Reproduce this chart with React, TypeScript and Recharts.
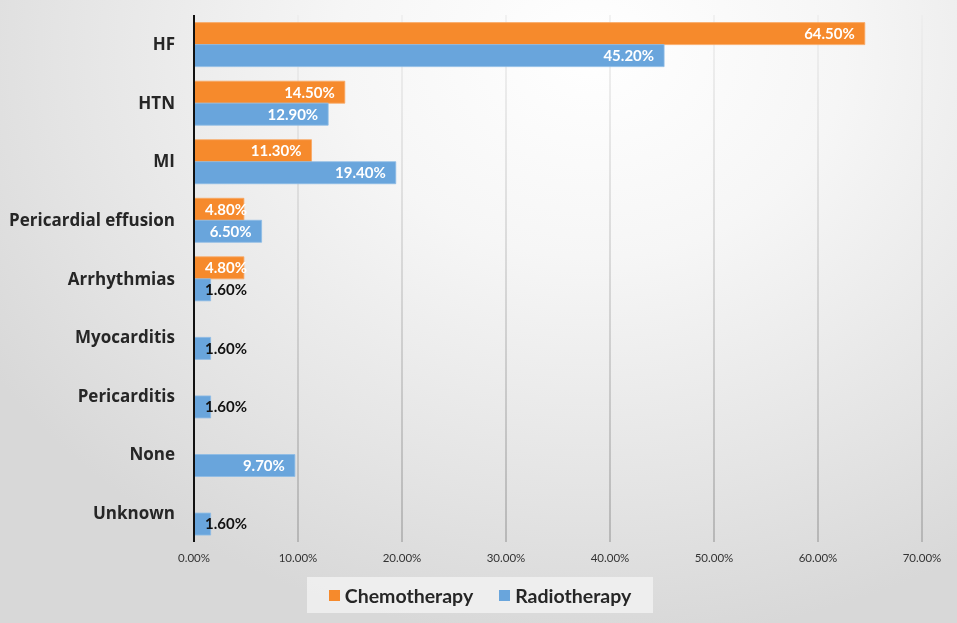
import { BarChart, Bar, XAxis, YAxis, CartesianGrid, LabelList } from "recharts";

const categories = ["HF", "HTN", "MI", "Pericardial effusion", "Arrhythmias", "Myocarditis", "Pericarditis", "None", "Unknown"];
const chemotherapy = [64.5, 14.5, 11.3, 4.8, 4.8, null, null, null, null];
const radiotherapy = [45.2, 12.9, 19.4, 6.5, 1.6, 1.6, 1.6, 9.7, 1.6];
const xTicks = [0, 10, 20, 30, 40, 50, 60, 70];
const seriesNames = ["Chemotherapy", "Radiotherapy"];
const seriesColors = ["#F68A2C", "#69A5DC"];

const data = categories.map((name, i) => ({ name, chemo: chemotherapy[i], radio: radiotherapy[i] }));

const FONT = "Lato, 'Open Sans', sans-serif";
const LABEL_FONT = "'Open Sans', Lato, sans-serif";

const ValueLabel = (props: any) => {
  const { x, y, width, height, value } = props;
  if (value == null) return null;
  const text = `${value.toFixed(2)}%`;
  const fits = value >= 6;
  return (
    <text
      x={fits ? x + width - 10 : x + 11}
      y={y + height / 2}
      dy="0.36em"
      textAnchor={fits ? "end" : "start"}
      fill={value < 2 ? "#111" : "#fff"}
      fontSize={15}
      fontWeight={700}
      fontFamily={FONT}
    >
      {text}
    </text>
  );
};

export default function App() {
  return (
    <div
      style={{
        position: "fixed", left: 0, top: 0, width: 957, height: 623,
        background: "radial-gradient(ellipse 75% 95% at 62% 8%, #ffffff 0%, #f6f6f6 35%, #e4e4e4 75%, #d8d8d8 100%)",
        fontFamily: FONT,
      }}
    >
      <BarChart
        width={957}
        height={623}
        data={data}
        layout="vertical"
        margin={{ top: 15, right: 35, bottom: 51, left: 0 }}
        barCategoryGap="13%"
        barGap={0}
      >
        <defs>
          <linearGradient id="gridGrad" gradientUnits="userSpaceOnUse" x1="0" y1="15" x2="0" y2="542">
            <stop offset="0%" stopColor="#ececec" />
            <stop offset="100%" stopColor="#a2a2a2" />
          </linearGradient>
        </defs>
        <CartesianGrid horizontal={false} stroke="url(#gridGrad)" strokeWidth={1.3} />
        <XAxis
          type="number"
          domain={[0, 70]}
          ticks={xTicks}
          tickFormatter={(v) => `${v.toFixed(2)}%`}
          axisLine={false}
          tickLine={false}
          tickSize={0}
          tickMargin={12}
          height={30}
          tick={{ fill: "#333", fontSize: 11.5, fontFamily: FONT }}
        />
        <YAxis
          type="category"
          dataKey="name"
          width={194}
          axisLine={{ stroke: "#111", strokeWidth: 2 }}
          tickLine={false}
          tickSize={0}
          tickMargin={19}
          interval={0}
          tick={{ fill: "#262626", fontSize: 17, fontWeight: 700, fontFamily: LABEL_FONT }}
        />
        <Bar dataKey="chemo" name={seriesNames[0]} fill={seriesColors[0]} stroke="#f9a865" strokeWidth={0.8} isAnimationActive={false}>
          <LabelList dataKey="chemo" content={<ValueLabel />} />
        </Bar>
        <Bar dataKey="radio" name={seriesNames[1]} fill={seriesColors[1]} stroke="#8dbbe6" strokeWidth={0.8} isAnimationActive={false}>
          <LabelList dataKey="radio" content={<ValueLabel />} />
        </Bar>
      </BarChart>
      <div
        style={{
          position: "absolute", left: 307, top: 577, width: 346, height: 36,
          background: "rgba(240,240,240,0.9)", display: "flex", alignItems: "center",
          justifyContent: "center", gap: 26,
        }}
      >
        {seriesNames.map((n, i) => (
          <div key={n} style={{ display: "flex", alignItems: "center", gap: 5 }}>
            <div style={{ width: 11, height: 11, background: seriesColors[i] }} />
            <span style={{ fontSize: 19.5, fontWeight: 700, color: "#262626" }}>{n}</span>
          </div>
        ))}
      </div>
    </div>
  );
}
